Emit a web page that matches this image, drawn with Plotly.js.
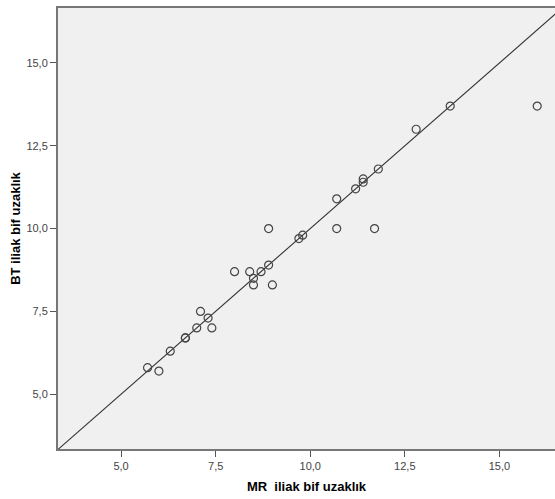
<!DOCTYPE html>
<html>
<head>
<meta charset="utf-8">
<script src="https://cdn.plot.ly/plotly-3.0.1.min.js"></script>
<style>html,body{margin:0;padding:0;background:#fff;}#chart{width:555px;height:499px;}</style>
</head>
<body>
<div id="chart"></div>
<script>
const mrValues = [5.7, 6.0, 6.3, 6.7, 6.7, 7.0, 7.1, 7.3, 7.4, 8.0, 8.4, 8.5, 8.5, 8.7, 8.9, 8.9, 9.0, 9.7, 9.8, 10.7, 10.7, 11.2, 11.4, 11.4, 11.7, 11.8, 12.8, 13.7, 16.0];
const btValues = [5.8, 5.7, 6.3, 6.7, 6.7, 7.0, 7.5, 7.3, 7.0, 8.7, 8.7, 8.5, 8.3, 8.7, 8.9, 10.0, 8.3, 9.7, 9.8, 10.0, 10.9, 11.2, 11.4, 11.5, 10.0, 11.8, 13.0, 13.7, 13.7];
const refLine = [3.3, 16.7];
const xTickVals = [5.0, 7.5, 10.0, 12.5, 15.0];
const xTickText = ['5,0', '7,5', '10,0', '12,5', '15,0'];
const yTickVals = [5.0, 7.5, 10.0, 12.5, 15.0];
const yTickText = ['5,0', '7,5', '10,0', '12,5', '15,0'];

const traces = [
  {
    x: refLine, y: refLine, mode: 'lines', type: 'scatter',
    line: {color: '#333333', width: 1.1}, hoverinfo: 'skip', showlegend: false
  },
  {
    x: mrValues, y: btValues, mode: 'markers', type: 'scatter',
    marker: {symbol: 'circle-open', size: 8, color: '#444444', line: {width: 1.2, color: '#444444'}},
    showlegend: false
  }
];

const layout = {
  width: 555, height: 499,
  margin: {l: 58, r: 0, t: 8, b: 50},
  paper_bgcolor: '#ffffff',
  plot_bgcolor: '#f0f0f0',
  font: {family: 'Liberation Sans, Arial, sans-serif', size: 11, color: '#444'},
  showlegend: false,
  xaxis: {
    range: [3.333, 16.47],
    tickvals: xTickVals, ticktext: xTickText,
    ticks: 'outside', ticklen: 6, tickwidth: 1, tickcolor: '#555',
    showgrid: false, zeroline: false,
    showline: true, linecolor: '#777', linewidth: 2, mirror: true,
    tickfont: {size: 11, color: '#444'},
    title: {text: 'MR  iliak bif uzaklık', font: {size: 13, color: '#000', family: 'Liberation Sans, Arial, sans-serif', weight: 'bold'}, standoff: 11}
  },
  yaxis: {
    range: [3.346, 16.66],
    tickvals: yTickVals, ticktext: yTickText,
    ticks: 'outside', ticklen: 6, tickwidth: 1, tickcolor: '#555',
    showgrid: false, zeroline: false,
    showline: true, linecolor: '#777', linewidth: 2,
    tickfont: {size: 11, color: '#444'},
    title: {text: 'BT iliak bif uzaklık', font: {size: 13, color: '#000', family: 'Liberation Sans, Arial, sans-serif', weight: 'bold'}, standoff: 3}
  }
};

Plotly.newPlot('chart', traces, layout, {displayModeBar: false, staticPlot: true});
</script>
</body>
</html>
